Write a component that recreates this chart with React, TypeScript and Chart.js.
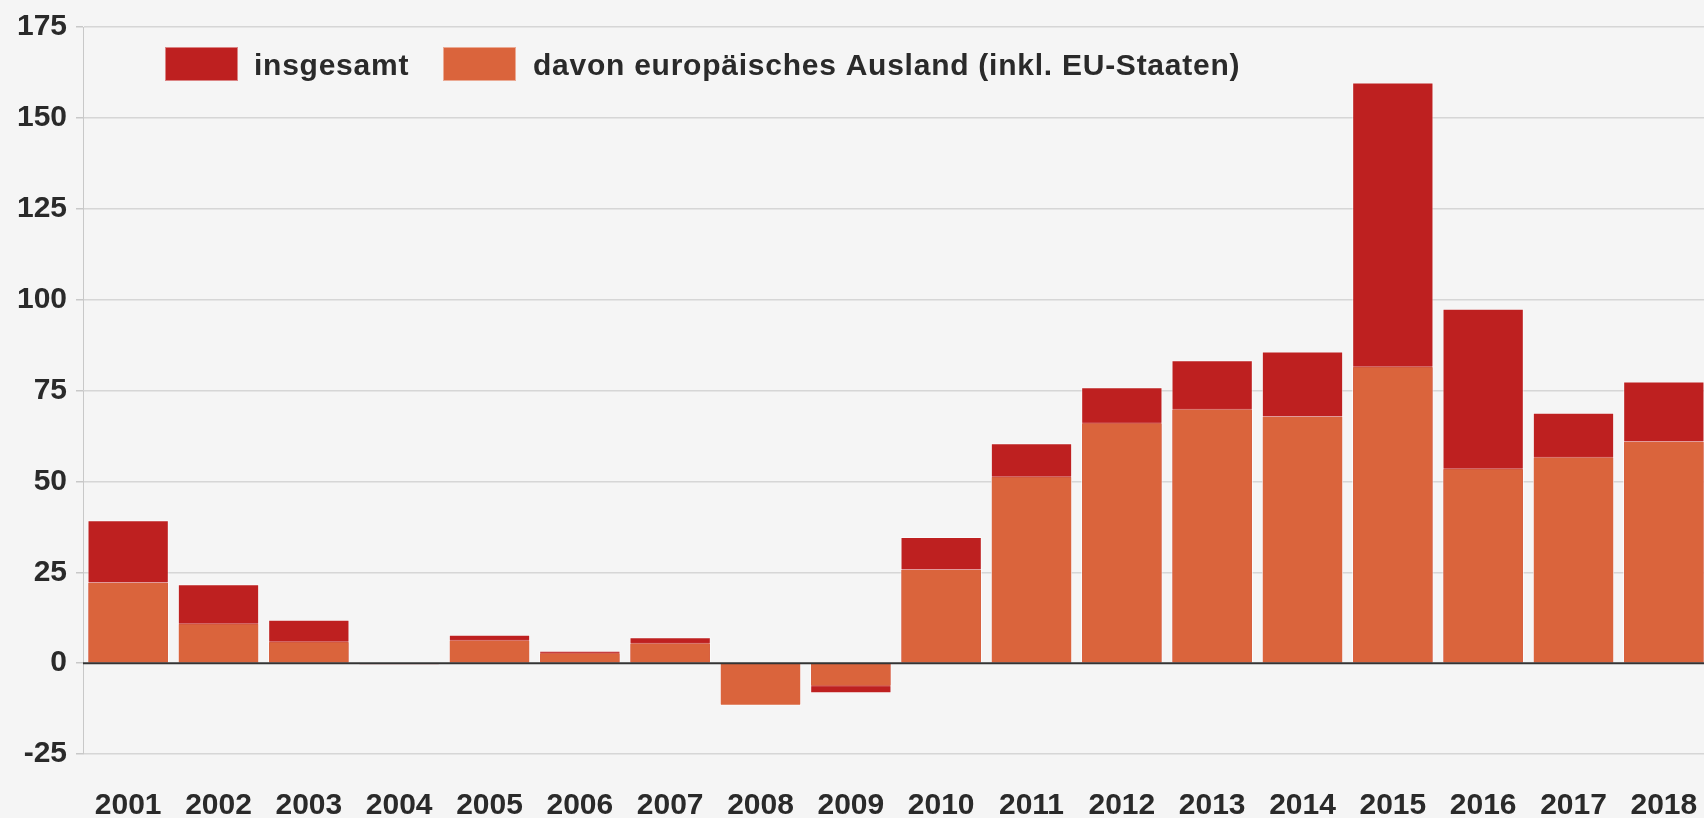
import React, { useEffect, useRef } from "react";
import { Chart, registerables } from "chart.js";

Chart.register(...registerables);

const years = ["2001", "2002", "2003", "2004", "2005", "2006", "2007", "2008", "2009", "2010", "2011", "2012", "2013", "2014", "2015", "2016", "2017", "2018"];
const insgesamt = [39.3, 21.7, 11.9, -0.4, 7.8, 3.4, 7.1, -11.5, -8.3, 34.7, 60.5, 75.9, 83.3, 85.7, 159.7, 97.5, 68.9, 77.5];
const europa = [22.3, 11.0, 6.0, 0, 6.4, 2.9, 5.6, -11.7, -6.4, 25.9, 51.4, 66.2, 70.0, 68.0, 81.7, 53.6, 56.8, 61.1];
const yMin = -25;
const yMax = 175;
const yStep = 25;

const labelTotal = "insgesamt";
const labelEurope = "davon europäisches Ausland (inkl. EU-Staaten)";

const RED = "#be2020";
const ORANGE = "#da643c";
const BG = "#f5f5f5";
const TEXT = "#2a2a2a";
const FONT = "'Liberation Sans', Arial, sans-serif";

export default function App() {
  const ref = useRef<HTMLCanvasElement | null>(null);

  useEffect(() => {
    const canvas = ref.current;
    if (!canvas) return;

    const zeroLine = {
      id: "zeroLine",
      afterDatasetsDraw(chart: any) {
        const { ctx, chartArea } = chart;
        const y = chart.scales.y.getPixelForValue(0);
        ctx.save();
        ctx.strokeStyle = "#333333";
        ctx.lineWidth = 2;
        ctx.beginPath();
        ctx.moveTo(chartArea.left, y);
        ctx.lineTo(chartArea.right, y);
        ctx.stroke();
        ctx.restore();
      },
    };

    const customLegend = {
      id: "customLegend",
      afterDraw(chart: any) {
        const { ctx } = chart;
        const items = [
          { label: chart.data.datasets[1].label, color: RED, x: 165, tx: 254 },
          { label: chart.data.datasets[0].label, color: ORANGE, x: 443, tx: 533 },
        ];
        ctx.save();
        ctx.font = `bold 30px ${FONT}`;
        (ctx as any).letterSpacing = "0.75px";
        ctx.textBaseline = "alphabetic";
        ctx.textAlign = "left";
        for (const it of items) {
          ctx.fillStyle = it.color;
          ctx.fillRect(it.x, 47, 73, 34);
          ctx.strokeStyle = "rgba(255,255,255,0.45)";
          ctx.lineWidth = 1;
          ctx.strokeRect(it.x + 0.5, 47.5, 72, 33);
          ctx.fillStyle = TEXT;
          ctx.fillText(it.label, it.tx, 75);
        }
        ctx.restore();
      },
    };

    const chart = new Chart(canvas, {
      type: "bar",
      data: {
        labels: years,
        datasets: [
          {
            label: labelEurope,
            data: europa,
            backgroundColor: ORANGE,
            borderColor: "rgba(255,255,255,0.55)",
            borderWidth: 1,
          },
          {
            label: labelTotal,
            data: insgesamt,
            backgroundColor: RED,
            borderColor: "rgba(255,255,255,0.5)",
            borderWidth: 1,
          },
        ],
      },
      options: {
        animation: false,
        responsive: false,
        devicePixelRatio: 1,
        layout: { padding: { top: 24, right: 3, left: 0, bottom: 0 } },
        datasets: {
          bar: {
            grouped: false,
            categoryPercentage: 1,
            barPercentage: 0.9,
          },
        },
        plugins: {
          legend: { display: false },
          tooltip: { enabled: false },
        },
        scales: {
          x: {
            grid: { display: false },
            border: { display: false },
            ticks: {
              color: TEXT,
              font: { family: FONT, size: 30, weight: "bold", lineHeight: 88 / 30 },
              padding: 0,
              maxRotation: 0,
              autoSkip: false,
            },
            afterFit(scale: any) {
              scale.height = 64;
            },
          },
          y: {
            min: yMin,
            max: yMax,
            ticks: {
              stepSize: yStep,
              color: TEXT,
              font: { family: FONT, size: 30, weight: "bold" },
              padding: 9,
            },
            grid: {
              color: (c: any) => (c.tick && c.tick.value === 0 ? "rgba(0,0,0,0)" : "#d6d6d6"),
              tickColor: "#c8c8c8",
              lineWidth: 1.5,
              tickLength: 7,
            },
            border: { display: true, color: "#c8c8c8", width: 1 },
            afterFit(scale: any) {
              scale.width = 83;
            },
          },
        },
      },
      plugins: [zeroLine, customLegend],
    } as any);

    return () => chart.destroy();
  }, []);

  return (
    <div
      style={{
        position: "fixed",
        left: 0,
        top: 0,
        width: 1704,
        height: 818,
        overflow: "hidden",
        background: BG,
      }}
    >
      <canvas ref={ref} width={1712} height={818} style={{ width: 1712, height: 818, display: "block" }} />
    </div>
  );
}
